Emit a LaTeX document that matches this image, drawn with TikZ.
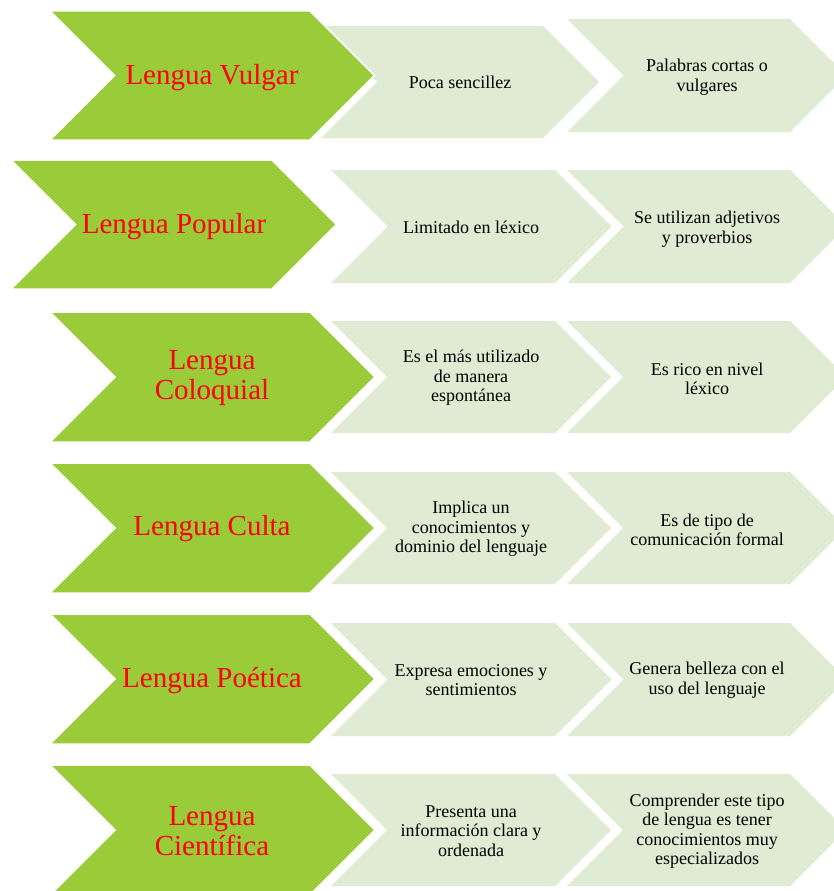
\documentclass[tikz,border=0pt]{standalone}
\usepackage{fontspec}
\setmainfont{Liberation Serif}
\definecolor{chgreen}{RGB}{154,203,57}
\definecolor{chlight}{RGB}{223,235,210}
\newcommand{\chevpath}[5]{% style, left x, top-right x, centre y, half height
  \path[#1] (#2,#4-#5) -- (#3,#4-#5) -- (#3+#5,#4) -- (#3,#4+#5) -- (#2,#4+#5) -- (#2+#5,#4) -- cycle;}
\tikzset{
  mainchev/.style={fill=chgreen, draw=white, line width=1.5pt, line join=miter},
  subchev/.style={fill=chlight},
  maintext/.style={font=\fontsize{29}{30}\selectfont, text=red, align=center, inner sep=0pt},
  subtext/.style={font=\fontsize{18}{19.5}\selectfont, text=black, align=center, inner sep=0pt}
}
\begin{document}
\begin{tikzpicture}[x=1pt,y=-1pt]
\useasboundingbox[fill=white] (0,0) rectangle (833,891);
% ---------- row 1
\chevpath{subchev}{567}{790}{75.5}{56.5}
\chevpath{subchev}{321}{543}{82}{56}
\chevpath{mainchev}{50}{310}{75.5}{64.5}
\node[maintext] (m1) at (212,78) {Lengua Vulgar};
\node[subtext] (a1) at (460,82) {Poca sencillez};
\node[subtext] (b1) at (707,77) {Palabras cortas o\\vulgares};
% ---------- row 2
\chevpath{subchev}{567}{790}{226.5}{56.5}
\chevpath{subchev}{331}{555}{226.5}{56.5}
\chevpath{mainchev}{11}{272}{224.5}{64.5}
\node[maintext] (m2) at (174,227) {Lengua Popular};
\node[subtext] (a2) at (471,227) {Limitado en léxico};
\node[subtext] (b2) at (707,229) {Se utilizan adjetivos\\y proverbios};
% ---------- row 3
\chevpath{subchev}{567}{790}{377}{56}
\chevpath{subchev}{331}{555}{377}{56}
\chevpath{mainchev}{50}{310}{377}{65}
\node[maintext] (m3) at (212,378) {Lengua\\Coloquial};
\node[subtext] (a3) at (471,378) {Es el más utilizado\\de manera\\espontánea};
\node[subtext] (b3) at (707,379) {Es rico en nivel\\léxico};
% ---------- row 4
\chevpath{subchev}{567}{790}{528}{56}
\chevpath{subchev}{331}{555}{528}{56}
\chevpath{mainchev}{50}{310}{528}{65}
\node[maintext] (m4) at (212,529) {Lengua Culta};
\node[subtext] (a4) at (471,529) {Implica un\\conocimientos y\\dominio del lenguaje};
\node[subtext] (b4) at (707,530) {Es de tipo de\\comunicación formal};
% ---------- row 5
\chevpath{subchev}{567}{790}{679.5}{56.5}
\chevpath{subchev}{331}{555}{679.5}{56.5}
\chevpath{mainchev}{50}{310}{679}{65}
\node[maintext] (m5) at (212,681) {Lengua Poética};
\node[subtext] (a5) at (471,680) {Expresa emociones y\\sentimientos};
\node[subtext] (b5) at (707,680) {Genera belleza con el\\uso del lenguaje};
% ---------- row 6
\chevpath{subchev}{567}{790}{830}{56}
\chevpath{subchev}{331}{555}{830}{56}
\chevpath{mainchev}{50}{310}{830}{65}
\node[maintext] (m6) at (212,831) {Lengua\\Científica};
\node[subtext] (a6) at (471,831) {Presenta una\\información clara y\\ordenada};
\node[subtext] (b6) at (707,831) {Comprender este tipo\\de lengua es tener\\conocimientos muy\\especializados};
\end{tikzpicture}
\end{document}
